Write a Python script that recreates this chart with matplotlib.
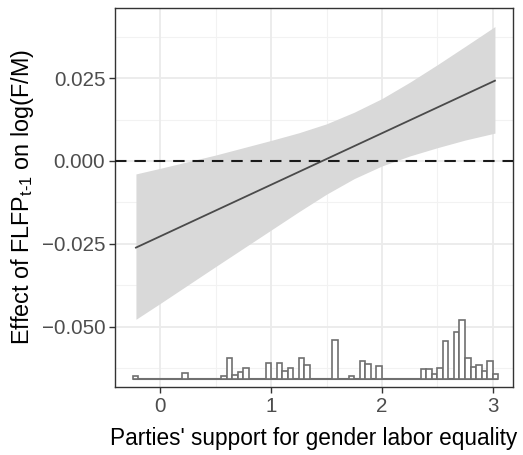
import matplotlib
matplotlib.use("Agg")
import matplotlib.pyplot as plt
import numpy as np

plt.rcParams['font.family'] = ['Liberation Sans', 'DejaVu Sans']
plt.rcParams['mathtext.fontset'] = 'custom'
plt.rcParams['mathtext.rm'] = 'Liberation Sans'
plt.rcParams['mathtext.it'] = 'Liberation Sans'

# Marginal effect line
line_x = [-0.22, 3.02]
line_y = [-0.0261, 0.0242]

# Confidence band
band_x = [-0.22, 0.0, 0.5, 1.0, 1.25, 1.5, 1.75, 2.0, 2.25, 2.5, 2.75, 3.02]
band_upper = [-0.0039, -0.0022, 0.0018, 0.0062, 0.0085, 0.0112, 0.0147, 0.0188,
              0.0237, 0.0290, 0.0345, 0.0405]
band_lower = [-0.0477, -0.0429, -0.0318, -0.0208, -0.0153, -0.0100, -0.0053, -0.0015,
              0.0015, 0.0040, 0.0063, 0.0084]

# Histogram of moderator (bin left edges, relative heights)
hist_left = [-0.25, 0.20, 0.55, 0.60, 0.65, 0.70, 0.75, 0.95, 1.05, 1.10, 1.15,
             1.25, 1.30, 1.55, 1.70, 1.80, 1.85, 1.95, 2.35, 2.40, 2.45, 2.50,
             2.55, 2.65, 2.70, 2.75, 2.80, 2.85, 2.90, 2.95, 3.00]
hist_height = [3.0, 5.7, 3.0, 20.7, 4.0, 7.0, 10.7, 15.7, 15.7, 7.5, 10.7,
               20.7, 13.3, 38.5, 3.0, 17.7, 15.0, 13.2, 10.0, 10.0, 4.5, 10.5,
               38.3, 46.5, 59.0, 20.7, 12.0, 13.5, 8.0, 18.0, 4.8]
hist_range = [-0.25, 3.05]
bin_width = 0.05
hist_base = -0.0656
hist_scale = 0.0003

xticks = [0, 1, 2, 3]
xtick_labels = ["0", "1", "2", "3"]
yticks = [-0.05, -0.025, 0.0, 0.025]
ytick_labels = ["\u22120.050", "\u22120.025", "0.000", "0.025"]

fig = plt.figure(figsize=(5.23, 4.55), dpi=100)
ax = fig.add_axes([115/523, 1-387/455, (513-115)/523, (387-8)/455])

ax.set_xlim(-0.409, 3.183)
ax.set_ylim(-0.0681, 0.0461)

# grid
for v in [-0.5, 0.5, 1.5, 2.5]:
    ax.axvline(v, color='#f2f2f2', lw=0.8, zorder=0)
for v in [-0.0625, -0.0375, -0.0125, 0.0125, 0.0375]:
    ax.axhline(v, color='#f2f2f2', lw=0.8, zorder=0)
for v in xticks:
    ax.axvline(v, color='#ebebeb', lw=1.3, zorder=0)
for v in yticks:
    ax.axhline(v, color='#ebebeb', lw=1.3, zorder=0)

ax.fill_between(band_x, band_lower, band_upper, color='#d9d9d9', lw=0, zorder=1)
ax.plot(line_x, line_y, color='#4a4a4a', lw=1.3, zorder=3)
ax.axhline(0, color='#1a1a1a', lw=1.5, dashes=(5.5, 3.8), zorder=4)

# histogram
heights = np.array(hist_height) * hist_scale
ax.plot(hist_range, [hist_base, hist_base], color='#707070', lw=1.5, zorder=2,
        solid_capstyle='butt')
ax.bar(hist_left, heights, width=bin_width, bottom=hist_base, align='edge',
       facecolor='white', edgecolor='#707070', linewidth=1.2, zorder=2)

ax.set_xticks(xticks)
ax.set_xticklabels(xtick_labels)
ax.set_yticks(yticks)
ax.set_yticklabels(ytick_labels)
ax.tick_params(axis='both', colors='#333333', labelcolor='#4d4d4d',
               labelsize=14.8, length=4, width=1, pad=3)
for s in ax.spines.values():
    s.set_color('#333333')
    s.set_linewidth(1.0)

ax.set_xlabel("Parties' support for gender labor equality", fontsize=16.3,
              color='black', va='center')
ax.xaxis.set_label_coords(0.5, (387 - 438) / 379)
ax.set_ylabel("Effect of FLFP$_{\\mathrm{t\u2010 1}}$ on log(F/M)", fontsize=16.8,
              color='black', va='center')
ax.yaxis.set_label_coords((23 - 115) / 398, 0.5)

fig.savefig("out.png", dpi=100)
